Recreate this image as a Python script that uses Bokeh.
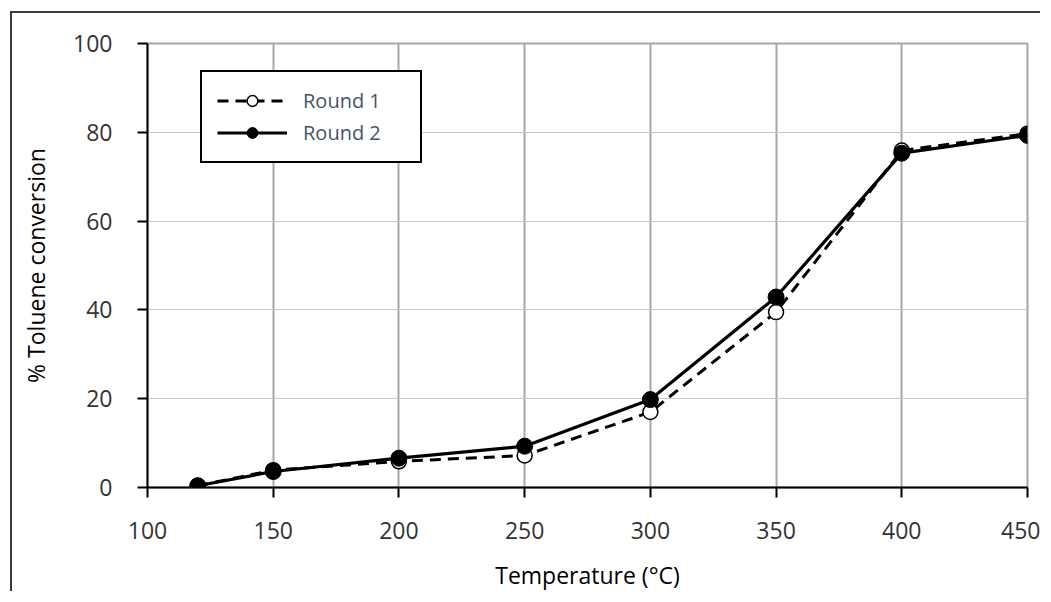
from bokeh.plotting import figure
from bokeh.models import Range1d, FixedTicker, Legend
from bokeh.embed import file_html
from bokeh.resources import INLINE

temperature = [120, 150, 200, 250, 300, 350, 400, 450]
round1 = [0.4, 3.9, 5.9, 7.2, 17.0, 39.5, 75.9, 79.7]
round2 = [0.4, 3.6, 6.6, 9.3, 19.8, 42.9, 75.3, 79.3]
x_ticks = [100, 150, 200, 250, 300, 350, 400, 450]
y_ticks = [0, 20, 40, 60, 80, 100]

FONT = "Open Sans"

p = figure(width=1030, height=580, output_backend="svg", toolbar_location=None,
           x_range=Range1d(100, 450), y_range=Range1d(0, 100),
           min_border_left=135, min_border_right=15, min_border_top=30, min_border_bottom=106)
p.styles = {"border-top": "2px solid #3a3a3a", "border-left": "2px solid #3a3a3a",
            "margin-left": "10px", "margin-top": "11px"}

p.outline_line_color = "#a6a6a6"
p.outline_line_width = 2
p.background_fill_color = "white"
p.border_fill_color = "white"

p.xaxis.ticker = FixedTicker(ticks=x_ticks)
p.yaxis.ticker = FixedTicker(ticks=y_ticks)
p.xgrid.ticker = FixedTicker(ticks=x_ticks)
p.ygrid.ticker = FixedTicker(ticks=y_ticks)
p.xgrid.grid_line_color = "#a6a6a6"
p.xgrid.grid_line_width = 2
p.ygrid.grid_line_color = "#c8c8c8"
p.ygrid.grid_line_width = 1

for ax in (p.xaxis, p.yaxis):
    ax.axis_line_color = "black"
    ax.axis_line_width = 2
    ax.major_tick_line_color = "black"
    ax.major_tick_line_width = 2
    ax.major_tick_out = 10
    ax.major_tick_in = 0
    ax.minor_tick_line_color = None
    ax.major_label_text_font = FONT
    ax.major_label_text_font_size = "23px"
    ax.major_label_text_color = "#333333"
    ax.axis_label_text_font = FONT
    ax.axis_label_text_font_size = "23px"
    ax.axis_label_text_font_style = "normal"
    ax.axis_label_text_color = "black"

p.xaxis.major_label_standoff = 24
p.yaxis.major_label_standoff = 25
p.xaxis.axis_label = "Temperature (°C)"
p.yaxis.axis_label = "% Toluene conversion"
p.xaxis.axis_label_standoff = 17
p.yaxis.axis_label_standoff = 18

l1 = p.line(temperature, round1, line_color="black", line_width=3, line_dash="11 7")
s1 = p.scatter(temperature, round1, marker="circle", size=15, fill_color="white",
               line_color="black", line_width=1.5)
l2 = p.line(temperature, round2, line_color="black", line_width=3.2)
s2 = p.scatter(temperature, round2, marker="circle", size=16, fill_color="black",
               line_color="black")

legend = Legend(items=[("Round 1", [l1, s1]), ("Round 2", [l2, s2])],
                location=(53, 324))
legend.border_line_color = "black"
legend.border_line_width = 2
legend.border_line_alpha = 1
legend.background_fill_alpha = 1
legend.padding = 15
legend.spacing = 5
legend.glyph_width = 70
legend.glyph_height = 27
legend.label_height = 27
legend.label_width = 102
legend.label_standoff = 16
legend.label_text_font = FONT
legend.label_text_font_size = "20px"
legend.label_text_color = "#44546A"
legend.margin = 0
p.add_layout(legend)

open("out.html", "w").write(file_html(p, INLINE))
